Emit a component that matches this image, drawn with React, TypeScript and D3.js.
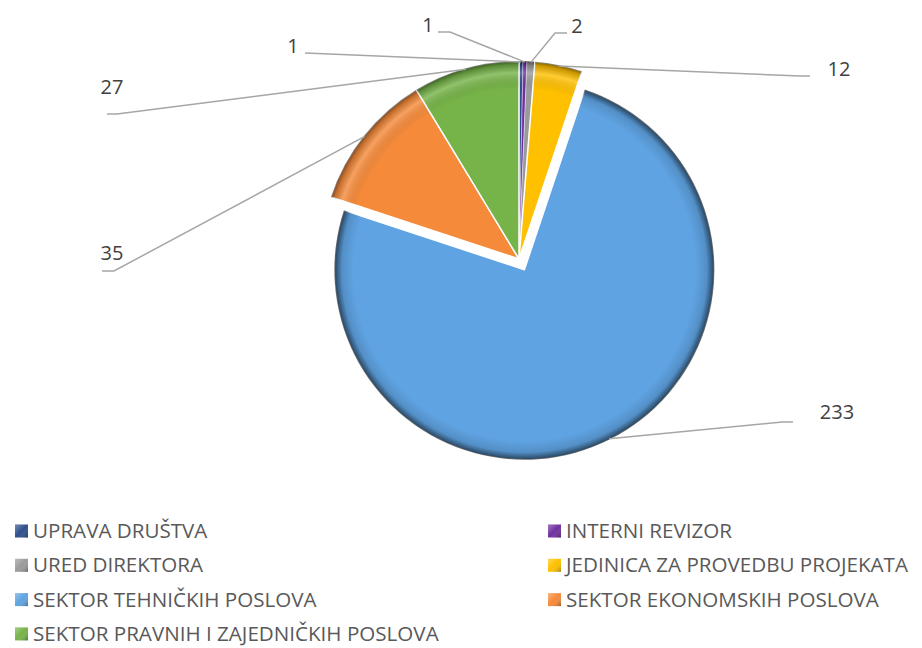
import React from 'react';
import * as d3 from 'd3';

const categories = [
  'UPRAVA DRUŠTVA',
  'INTERNI REVIZOR',
  'URED DIREKTORA',
  'JEDINICA ZA PROVEDBU PROJEKATA',
  'SEKTOR TEHNIČKIH POSLOVA',
  'SEKTOR EKONOMSKIH POSLOVA',
  'SEKTOR PRAVNIH I ZAJEDNIČKIH POSLOVA',
];
const values = [1, 1, 2, 12, 233, 35, 27];
const colors = ['#2E4F8C', '#7030A0', '#9A9A9A', '#FFC000', '#5FA3E2', '#F58A3A', '#76B348'];
const exploded = [false, false, false, false, true, false, false];

// label layout: text anchor, elbow point, end of short horizontal tick
const labelLayout = [
  { tx: 293, ty: 53, elbow: [305, 53], end: [305, 53] },
  { tx: 428, ty: 32, elbow: [450, 32], end: [438, 32] },
  { tx: 577, ty: 33, elbow: [555, 33], end: [567, 33] },
  { tx: 839, ty: 76, elbow: [800, 76], end: [810, 76] },
  { tx: 837, ty: 419, elbow: [782, 422], end: [793, 422] },
  { tx: 112, ty: 260, elbow: [114, 271], end: [102, 271] },
  { tx: 112, ty: 94, elbow: [117, 114], end: [107, 114] },
];

const W = 922;
const H = 648;
const cx = 519;
const cy = 259;
const R = 198;
const RExp = 190;
const explodeDist = 12;

export default function App() {
  const pie = d3.pie<number>().value(d => d).sort(null).startAngle(0).endAngle(2 * Math.PI);
  const arcs = pie(values);
  const arcGen = d3.arc<d3.PieArcDatum<number>>().innerRadius(0);

  const legendRows = categories.map((c, i) => ({
    name: c,
    color: colors[i],
    col: i % 2,
    row: Math.floor(i / 2),
  }));

  return (
    <div style={{ position: 'absolute', left: 0, top: 0 }}>
      <svg width={W} height={H} style={{ display: 'block', fontFamily: '"Open Sans", sans-serif' }}>
        <defs>
          <radialGradient id="rim" gradientUnits="userSpaceOnUse" cx={0} cy={0} r={R}>
            <stop offset="0.86" stopColor="#000" stopOpacity={0} />
            <stop offset="0.94" stopColor="#fff" stopOpacity={0.2} />
            <stop offset="0.98" stopColor="#000" stopOpacity={0.2} />
            <stop offset="1" stopColor="#000" stopOpacity={0.5} />
          </radialGradient>
          <radialGradient id="rimExp" gradientUnits="userSpaceOnUse" cx={0} cy={0} r={RExp}>
            <stop offset="0.9" stopColor="#000" stopOpacity={0} />
            <stop offset="0.96" stopColor="#000" stopOpacity={0.12} />
            <stop offset="1" stopColor="#000" stopOpacity={0.6} />
          </radialGradient>
          <linearGradient id="bevel" x1="0" y1="0" x2="1" y2="1">
            <stop offset="0" stopColor="#fff" stopOpacity={0.35} />
            <stop offset="0.5" stopColor="#fff" stopOpacity={0} />
            <stop offset="1" stopColor="#000" stopOpacity={0.35} />
          </linearGradient>
        </defs>

        <g transform={`translate(${cx},${cy})`}>
          {arcs.map((a, i) => {
            const mid = (a.startAngle + a.endAngle) / 2;
            const dx = exploded[i] ? Math.sin(mid) * explodeDist : 0;
            const dy = exploded[i] ? -Math.cos(mid) * explodeDist : 0;
            const r = exploded[i] ? RExp : R;
            const d = arcGen.outerRadius(r)(a) || '';
            return (
              <g key={i} transform={`translate(${dx},${dy})`}>
                <path d={d} fill={colors[i]} stroke="#fff" strokeWidth={values[i] < 5 ? 0.4 : 1.5} strokeLinejoin="round" />
                <path d={d} fill={exploded[i] ? 'url(#rimExp)' : 'url(#rim)'} stroke="none" />
              </g>
            );
          })}
        </g>

        {arcs.map((a, i) => {
          const mid = (a.startAngle + a.endAngle) / 2;
          const dx = exploded[i] ? Math.sin(mid) * explodeDist : 0;
          const dy = exploded[i] ? -Math.cos(mid) * explodeDist : 0;
          const r = (exploded[i] ? RExp : R) - 1;
          const sx = cx + dx + Math.sin(mid) * r;
          const sy = cy + dy - Math.cos(mid) * r;
          const L = labelLayout[i];
          return (
            <g key={i}>
              <polyline
                points={`${sx},${sy} ${L.elbow[0]},${L.elbow[1]} ${L.end[0]},${L.end[1]}`}
                fill="none"
                stroke="#A6A6A6"
                strokeWidth={1.5}
              />
              <text x={L.tx} y={L.ty} textAnchor="middle" fontSize={20} fill="#404040">
                {values[i]}
              </text>
            </g>
          );
        })}

        <g>
          {legendRows.map((l, i) => {
            const sx = l.col === 0 ? 15 : 548;
            const yc = 531 + l.row * 34.3;
            return (
              <g key={i}>
                <rect x={sx} y={yc - 6.5} width={13} height={13} fill={l.color} />
                <rect x={sx} y={yc - 6.5} width={13} height={13} fill="url(#bevel)" />
                <text x={sx + 18} y={yc + 7} fontSize={20.6} fill="#595959">
                  {l.name}
                </text>
              </g>
            );
          })}
        </g>
      </svg>
    </div>
  );
}
